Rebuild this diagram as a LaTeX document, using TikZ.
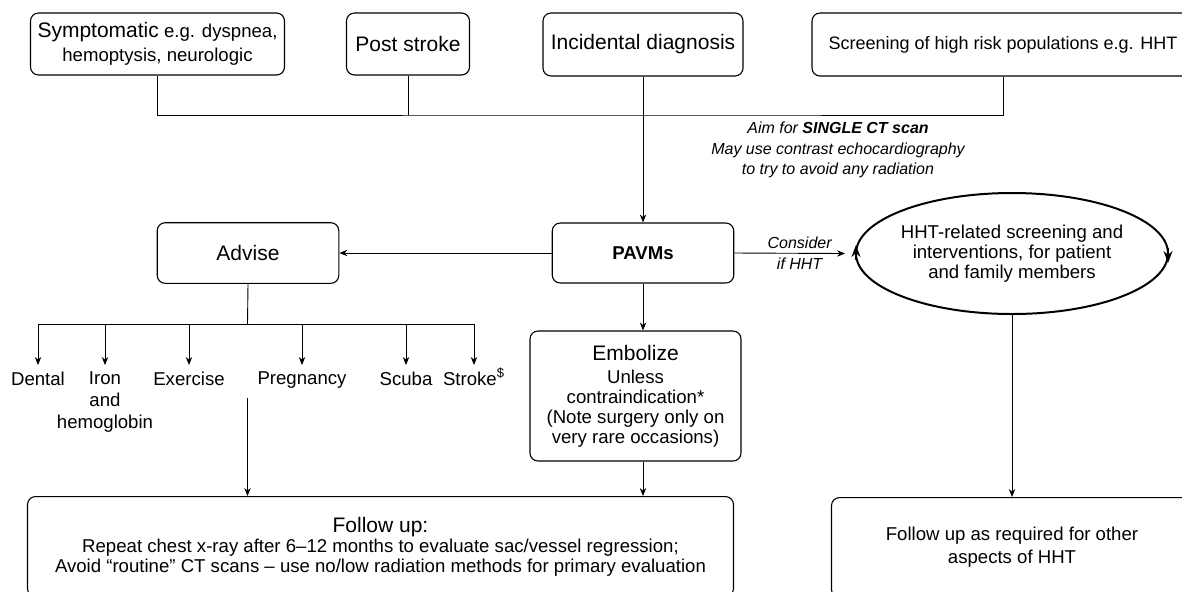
\documentclass[tikz,border=0pt]{standalone}
\usepackage{fontspec}
\setmainfont{Liberation Sans}
\usetikzlibrary{arrows.meta,shapes.geometric}

\newcommand{\fsbig}{\fontsize{10.5}{12}\selectfont}
\newcommand{\fsnorm}{\fontsize{9.3}{10}\selectfont}
\newcommand{\fsit}{\fontsize{8}{10.25}\selectfont\itshape}

\begin{document}
\begin{tikzpicture}[x=0.5pt, y=-0.5pt, line width=0.45pt, >={Stealth[length=4pt,width=3.2pt]},
                    box/.style={draw,line width=0.55pt,rounded corners=4pt,align=center,inner sep=0pt,font=\fsnorm},
                    lbl/.style={anchor=north,align=center,inner sep=0pt,outer sep=3.5pt,font=\fsnorm}]

  \useasboundingbox (0,0) rectangle (1182,591);
  \clip (0,0) rectangle (1182,591);

  \node[box,minimum width=127pt,minimum height=31pt,font=\fontsize{9.3}{12}\selectfont] (symp) at (157.5,44) {{\fsbig Symptomatic} e.g. dyspnea,\\hemoptysis, neurologic};
  \node[box,minimum width=61.5pt,minimum height=31pt,font=\fsbig] (post) at (408,44) {Post stroke};
  \node[box,minimum width=100pt,minimum height=31.5pt,font=\fsbig] (incid) at (643,44.5) {Incidental diagnosis};
  \node[box,minimum width=191pt,minimum height=31.5pt,font=\fontsize{9}{10}\selectfont] (screen) at (1003,44.5) {Screening of high risk populations e.g. HHT};
  \coordinate (bar) at (643,115);

  \node[align=center,inner sep=0pt,font=\fsit] (ctnote) at (838,150) {Aim for \textbf{SINGLE CT scan}\\May use contrast echocardiography\\to try to avoid any radiation};

  \node[box,minimum width=90.75pt,minimum height=30pt,font=\fsnorm\bfseries] (pavm) at (643,253) {PAVMs};
  \node[box,minimum width=90.8pt,minimum height=30.3pt,font=\fsbig] (advise) at (248,253) {Advise};
  \node[ellipse,draw,line width=1pt,outer sep=0pt,minimum width=156pt,minimum height=60.5pt,
        inner xsep=-2pt,inner ysep=0pt,align=center,font=\fsnorm] (hht) at (1012,253.5) {HHT-related screening and\\interventions, for patient\\and family members};
  \node[box,minimum width=105.5pt,minimum height=65pt] (embol) at (635.5,396) {{\fsbig Embolize}\\[1.5pt]Unless\\contraindication*\\(Note surgery only on\\very rare occasions)};

  \coordinate (adbar) at (247.5,324);
  \node[lbl] (dental) at (38,365) {Dental};
  \node[lbl,font=\fontsize{9.3}{11}\selectfont] (iron) at (105,365) {Iron\\and\\hemoglobin};
  \node[lbl] (exer) at (189,365) {Exercise};
  \node[lbl] (preg) at (302,365) {Pregnancy};
  \node[lbl] (scuba) at (406,365) {Scuba};
  \node[lbl] (stroke) at (474,365) {Stroke\smash{\textsuperscript{\$}}};
  \coordinate (drop) at (247.5,398);

  \node[box,anchor=north,minimum width=353pt,minimum height=50pt] (follow) at (380.5,496) {{\fsbig Follow up:}\\Repeat chest x-ray after 6–12 months to evaluate sac/vessel regression;\\Avoid “routine” CT scans – use no/low radiation methods for primary evaluation};
  \node[box,anchor=north,minimum width=180.5pt,minimum height=50pt,font=\fontsize{9.3}{11.5}\selectfont] (hhtfu) at (1012,497) {Follow up as required for other\\aspects of HHT};

  \draw (symp.south) |- (bar) -| (screen.south);
  \draw (post.south) -- (post.south |- bar);
  \draw (advise.south) -- (adbar);
  \draw (dental.north |- adbar) -- (stroke.north |- adbar);
  \foreach \n in {dental,iron,exer,preg,scuba,stroke}
    \draw[->] (\n.north |- adbar) -- (\n.north);

  \path[->] (incid.south) edge (pavm.north)
            (pavm.west) edge (advise.east)
            (pavm.south) edge (pavm.south |- embol.north)
            (pavm.east) edge node[pos=0.59,align=center,inner sep=0pt,font=\fsit] {Consider\\if HHT} ([xshift=-5.5pt]hht.west)
            (embol.south -| pavm.south) edge (follow.north -| pavm.south)
            (drop) edge (follow.north -| drop)
            (hht.south) edge (hhtfu.north);

  \draw[line width=0.8pt,-{Stealth[length=6pt,width=4.5pt]}] ([yshift=-3pt]hht.west) -- ([yshift=4.25pt]hht.west);
  \draw[line width=0.8pt,-{Stealth[length=6pt,width=4.5pt]}] ([yshift=3pt]hht.east) -- ([yshift=-4.75pt]hht.east);

\end{tikzpicture}
\end{document}
